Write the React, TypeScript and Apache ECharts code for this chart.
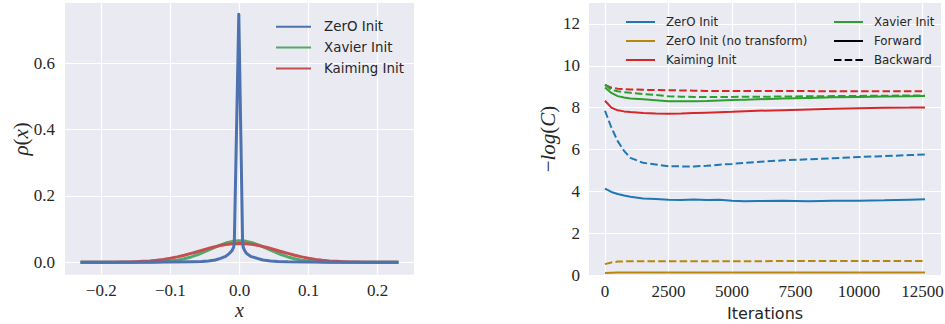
import React, { useEffect, useRef } from "react";
import * as echarts from "echarts";

// ---------- Left panel: weight distributions ----------
const zeroX = [-0.23, -0.2, -0.15, -0.1, -0.07, -0.055, -0.045, -0.035, -0.0275, -0.02, -0.0145, -0.011, -0.0085, -0.0075, -0.001, 0.0045, 0.0055, 0.0075, 0.0101, 0.016, 0.0256, 0.034, 0.045, 0.056, 0.07, 0.1, 0.15, 0.2, 0.23];
const zeroY = [0, 0.0002, 0.0004, 0.0008, 0.0015, 0.0025, 0.004, 0.007, 0.012, 0.018, 0.027, 0.035, 0.045, 0.06, 0.748, 0.06, 0.045, 0.035, 0.027, 0.018, 0.012, 0.007, 0.004, 0.0025, 0.0015, 0.0008, 0.0004, 0.0002, 0];

const distX = [-0.23, -0.22, -0.21, -0.2, -0.19, -0.18, -0.17, -0.16, -0.15, -0.14, -0.13, -0.12, -0.11, -0.1, -0.09, -0.08, -0.07, -0.06, -0.05, -0.04, -0.03, -0.02, -0.01, 0, 0.01, 0.02, 0.03, 0.04, 0.05, 0.06, 0.07, 0.08, 0.09, 0.1, 0.11, 0.12, 0.13, 0.14, 0.15, 0.16, 0.17, 0.18, 0.19, 0.2, 0.21, 0.22, 0.23];
const xavierY = [0, 0, 0, 0, 0, 0, 0, 0, 0.0001, 0.0003, 0.0005, 0.0011, 0.0021, 0.0038, 0.0065, 0.0106, 0.0162, 0.0234, 0.032, 0.0413, 0.0504, 0.0581, 0.0632, 0.065, 0.0632, 0.0581, 0.0504, 0.0413, 0.032, 0.0234, 0.0162, 0.0106, 0.0065, 0.0038, 0.0021, 0.0011, 0.0005, 0.0003, 0.0001, 0, 0, 0, 0, 0, 0, 0, 0];
const kaimingY = [0, 0, 0, 0.0001, 0.0002, 0.0004, 0.0007, 0.0011, 0.0018, 0.0028, 0.0042, 0.0062, 0.0088, 0.0122, 0.0164, 0.0213, 0.0268, 0.0327, 0.0388, 0.0445, 0.0496, 0.0536, 0.0561, 0.057, 0.0561, 0.0536, 0.0496, 0.0445, 0.0388, 0.0327, 0.0268, 0.0213, 0.0164, 0.0122, 0.0088, 0.0062, 0.0042, 0.0028, 0.0018, 0.0011, 0.0007, 0.0004, 0.0002, 0.0001, 0, 0, 0];

const leftXTicks = [-0.2, -0.1, 0, 0.1, 0.2];
const leftYTicks = [0, 0.2, 0.4, 0.6];

// ---------- Right panel: -log(C) over iterations ----------
const iterations = [0, 250, 500, 750, 1000, 1500, 2000, 2500, 3000, 3500, 4000, 4500, 5000, 5500, 6000, 7000, 8000, 9000, 10000, 11000, 12000, 12600];
const zeroFwd = [4.13, 3.97, 3.87, 3.8, 3.74, 3.66, 3.63, 3.6, 3.59, 3.61, 3.58, 3.6, 3.55, 3.52, 3.54, 3.55, 3.53, 3.55, 3.55, 3.57, 3.6, 3.62];
const zeroBwd = [7.85, 7.05, 6.4, 5.93, 5.6, 5.36, 5.28, 5.2, 5.19, 5.19, 5.22, 5.27, 5.31, 5.36, 5.4, 5.48, 5.53, 5.58, 5.64, 5.68, 5.73, 5.76];
const noTfFwd = [0.1, 0.11, 0.12, 0.12, 0.12, 0.12, 0.12, 0.12, 0.12, 0.12, 0.12, 0.12, 0.12, 0.12, 0.12, 0.12, 0.12, 0.12, 0.12, 0.12, 0.12, 0.12];
const noTfBwd = [0.52, 0.6, 0.64, 0.65, 0.66, 0.66, 0.66, 0.66, 0.66, 0.66, 0.66, 0.66, 0.66, 0.66, 0.66, 0.67, 0.67, 0.67, 0.67, 0.67, 0.67, 0.67];
const kaimingFwd = [8.33, 8.0, 7.87, 7.82, 7.79, 7.74, 7.72, 7.71, 7.72, 7.74, 7.76, 7.78, 7.8, 7.83, 7.85, 7.88, 7.91, 7.94, 7.97, 7.99, 8.0, 8.01];
const kaimingBwd = [9.08, 8.95, 8.9, 8.88, 8.87, 8.85, 8.84, 8.83, 8.82, 8.81, 8.8, 8.8, 8.8, 8.79, 8.79, 8.79, 8.79, 8.78, 8.78, 8.78, 8.78, 8.78];
const xavierFwd = [8.96, 8.7, 8.55, 8.48, 8.44, 8.4, 8.35, 8.3, 8.3, 8.31, 8.32, 8.34, 8.36, 8.38, 8.4, 8.43, 8.46, 8.49, 8.51, 8.53, 8.54, 8.55];
const xavierBwd = [9.1, 8.85, 8.78, 8.74, 8.71, 8.65, 8.6, 8.54, 8.52, 8.51, 8.51, 8.51, 8.51, 8.52, 8.52, 8.53, 8.54, 8.55, 8.56, 8.57, 8.58, 8.58];

const rightXTicks = [0, 2500, 5000, 7500, 10000, 12500];
const rightYTicks = [0, 2, 4, 6, 8, 10, 12];

const TXT = "#262626";
const SERIF = "Liberation Serif";
const SANS = "DejaVu Sans";
const BG = "#EAEAF2";

const zip = (xs: number[], ys: number[]) => xs.map((x, i) => [x, ys[i]]);
const minus = (s: string) => s.replace("-", "\u2212");

function axisBase(ticks: number[], fmt: (v: number) => string, margin: number) {
  return {
    type: "value",
    nameMoveOverlap: false,
    axisLine: { show: false },
    axisTick: { show: false, customValues: ticks },
    axisLabel: {
      customValues: ticks,
      formatter: (v: number) => "{s|" + fmt(v) + "}",
      fontFamily: SERIF, fontSize: 17, color: TXT, margin,
      rich: { s: { fontFamily: SERIF, fontSize: 17, color: TXT } },
    },
    splitLine: { show: true, lineStyle: { color: "#ffffff", width: 1.2 } },
  };
}

function buildLeft() {
  const line = (name: string, data: number[][], color: string) => ({
    name, type: "line", data, symbol: "none", showSymbol: false,
    lineStyle: { color, width: 3, join: "round" }, itemStyle: { color },
  });
  return {
    animation: false,
    textStyle: { fontFamily: SERIF },
    grid: { left: 65, top: 3, width: 349, height: 271.7, show: true, backgroundColor: BG, borderWidth: 0, containLabel: false, outerBoundsMode: "none" },
    xAxis: {
      ...axisBase(leftXTicks, (v: number) => minus(v.toFixed(1)), 7),
      min: -0.2525, max: 0.2525,
      name: "x", nameLocation: "middle", nameGap: 25,
      nameTextStyle: { fontFamily: SERIF, fontStyle: "italic", fontSize: 20, lineHeight: 20, color: TXT },
    },
    yAxis: {
      ...axisBase(leftYTicks, (v: number) => v.toFixed(1), 10),
      min: -0.0374, max: 0.782,
      name: "{i|\u03C1}{n|(}{i|x}{n|)}", nameLocation: "middle", nameGap: 34,
      nameTextStyle: {
        color: TXT,
        rich: {
          i: { fontFamily: SERIF, fontStyle: "italic", fontSize: 21, color: TXT },
          n: { fontFamily: SERIF, fontSize: 21, color: TXT },
        },
      },
    },
    legend: {
      left: 270, top: 15.3, orient: "vertical", itemWidth: 35, itemHeight: 14, itemGap: 7.8,
      itemStyle: { opacity: 0 },
      textStyle: { fontFamily: SANS, fontSize: 13.4, color: TXT, padding: [0, 0, 0, 8] },
      data: ["ZerO Init", "Xavier Init", "Kaiming Init"],
    },
    series: [
      line("Xavier Init", zip(distX, xavierY), "#55A868"),
      line("Kaiming Init", zip(distX, kaimingY), "#C44E52"),
      line("ZerO Init", zip(zeroX, zeroY), "#4C72B0"),
    ],
  };
}

function buildRight() {
  const DASH = [7.5, 3.2];
  const line = (name: string, ys: number[], color: string, dashed: boolean, z: number) => ({
    name, type: "line", data: zip(iterations, ys), symbol: "none", showSymbol: false, z,
    lineStyle: { color, width: 2, type: dashed ? DASH : "solid" }, itemStyle: { color },
  });
  const legendCommon = {
    orient: "vertical", top: 11, itemWidth: 29, itemHeight: 12, itemGap: 7,
    itemStyle: { opacity: 0 },
    textStyle: { fontFamily: SANS, fontSize: 11.8, color: TXT, padding: [0, 0, 0, 6] },
  };
  return {
    animation: false,
    textStyle: { fontFamily: SERIF },
    grid: { left: 69, top: 3, width: 352, height: 272, show: true, backgroundColor: BG, borderWidth: 0, containLabel: false, outerBoundsMode: "none" },
    xAxis: {
      ...axisBase(rightXTicks, (v: number) => String(v), 8),
      min: -630, max: 13230,
      name: "Iterations", nameLocation: "middle", nameGap: 30,
      nameTextStyle: { fontFamily: SANS, fontSize: 16, color: TXT },
    },
    yAxis: {
      ...axisBase(rightYTicks, (v: number) => String(v), 9),
      min: 0, max: 13,
      name: "{n|\u2212}{i|log}{n|(}{i|C}{n|)}", nameLocation: "middle", nameGap: 31,
      nameTextStyle: {
        color: TXT,
        rich: {
          i: { fontFamily: SERIF, fontStyle: "italic", fontSize: 21, color: TXT },
          n: { fontFamily: SERIF, fontSize: 21, color: TXT },
        },
      },
    },
    legend: [
      { ...legendCommon, left: 100, data: ["ZerO Init", "ZerO Init (no transform)", "Kaiming Init"] },
      { ...legendCommon, left: 308, data: ["Xavier Init", "Forward", "Backward"] },
    ],
    series: [
      line("ZerO Init", zeroFwd, "#1f77b4", false, 3),
      line("ZerO Init (no transform)", noTfFwd, "#B8860B", false, 3),
      line("Kaiming Init", kaimingFwd, "#d62728", false, 3),
      line("Xavier Init", xavierFwd, "#2ca02c", false, 4),
      { name: "Forward", type: "line", data: [], symbol: "none", lineStyle: { color: "#000", width: 2 }, itemStyle: { color: "#000" } },
      { name: "Backward", type: "line", data: [], symbol: "none", lineStyle: { color: "#000", width: 2, type: DASH }, itemStyle: { color: "#000" } },
      line("ZerO Init", zeroBwd, "#1f77b4", true, 2),
      line("ZerO Init (no transform)", noTfBwd, "#B8860B", true, 2),
      line("Kaiming Init", kaimingBwd, "#d62728", true, 2),
      line("Xavier Init", xavierBwd, "#2ca02c", true, 2),
    ],
  };
}

export default function App() {
  const leftRef = useRef<HTMLDivElement>(null);
  const rightRef = useRef<HTMLDivElement>(null);
  useEffect(() => {
    const l = echarts.init(leftRef.current!, undefined, { renderer: "svg" });
    const r = echarts.init(rightRef.current!, undefined, { renderer: "svg" });
    l.setOption(buildLeft() as any);
    r.setOption(buildRight() as any);
    return () => {
      l.dispose();
      r.dispose();
    };
  }, []);
  return (
    <div style={{ position: "absolute", left: 0, top: 0, width: 945, height: 324, background: "#fff" }}>
      <div ref={leftRef} style={{ position: "absolute", left: 0, top: 0, width: 520, height: 324 }} />
      <div ref={rightRef} style={{ position: "absolute", left: 520, top: 0, width: 425, height: 324 }} />
    </div>
  );
}
